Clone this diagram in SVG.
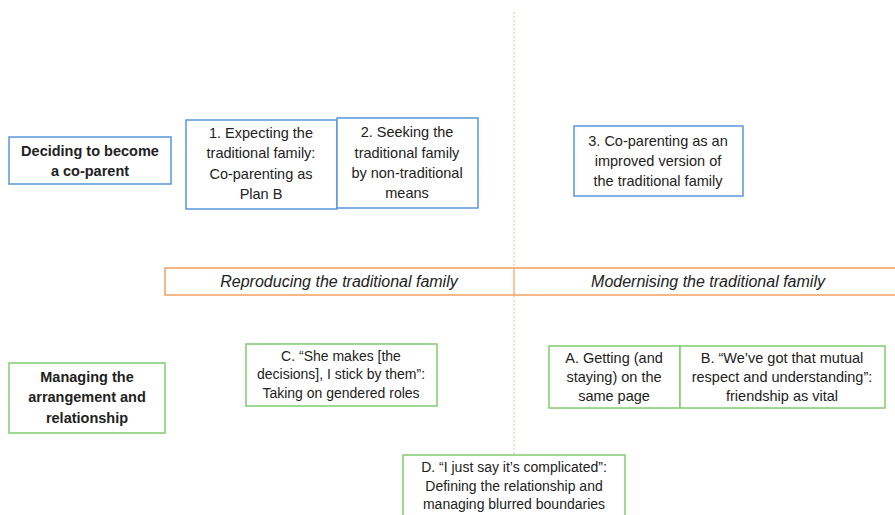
<svg xmlns="http://www.w3.org/2000/svg" width="895" height="515" viewBox="0 0 895 515">
<style>
.bl{fill:#fff;stroke:#5896dc;stroke-width:1.5}
.gr{fill:#fff;stroke:#80cc70;stroke-width:1.5}
.or{fill:#fff;stroke:#f4a060;stroke-width:1.5}
text{font-family:"Liberation Sans",Arial,sans-serif;font-size:14.5px;fill:#222;text-anchor:middle}
.b{font-weight:bold}
.i{font-style:italic;font-size:16px}
.s{font-size:14px}
.m{font-size:14.5px}
</style>
<rect width="895" height="515" fill="#fff"/>
<g id="connectors">
<line x1="514" y1="12" x2="514" y2="455" stroke="#f6c7a2" stroke-width="1.2" stroke-dasharray="2,2"/>
</g>
<g id="band">
<rect class="or" x="165" y="268" width="735" height="27"/>
<line x1="514" y1="268" x2="514" y2="295" stroke="#f4a060" stroke-width="1.2"/>
<text class="i" x="339" y="287">Reproducing the traditional family</text>
<text class="i" x="708" y="287">Modernising the traditional family</text>
</g>
<g id="deciding">
<rect class="bl" x="9" y="137" width="162" height="47"/>
<text class="b" x="90" y="156">Deciding to become</text>
<text class="b" x="90" y="176">a co-parent</text>
</g>
<g id="n1">
<rect class="bl" x="186" y="120" width="151" height="89"/>
<text x="261" y="138">1. Expecting the</text>
<text x="261" y="158">traditional family:</text>
<text x="261" y="179">Co-parenting as</text>
<text x="261" y="199">Plan B</text>
</g>
<g id="n2">
<rect class="bl" x="337" y="118" width="141" height="90"/>
<text x="407" y="137">2. Seeking the</text>
<text x="407" y="158">traditional family</text>
<text x="407" y="178">by non-traditional</text>
<text x="407" y="198">means</text>
</g>
<g id="n3">
<rect class="bl" x="574" y="126" width="169" height="70"/>
<text x="658" y="146">3. Co-parenting as an</text>
<text x="658" y="166">improved version of</text>
<text x="658" y="186">the traditional family</text>
</g>
<g id="managing">
<rect class="gr" x="9" y="363" width="156" height="70"/>
<text class="b" x="87" y="382">Managing the</text>
<text class="b" x="87" y="402">arrangement and</text>
<text class="b" x="87" y="423">relationship</text>
</g>
<g id="nC">
<rect class="gr" x="246" y="344" width="191" height="62"/>
<text class="s" x="341" y="361">C. “She makes [the</text>
<text class="s" x="341" y="379">decisions], I stick by them”:</text>
<text class="s" x="341" y="398">Taking on gendered roles</text>
</g>
<g id="nA">
<rect class="gr" x="549" y="346" width="131" height="62"/>
<text class="m" x="614" y="363">A. Getting (and</text>
<text class="m" x="614" y="382">staying) on the</text>
<text class="m" x="614" y="401">same page</text>
</g>
<g id="nB">
<rect class="gr" x="680" y="346" width="205" height="62"/>
<text class="m" x="782" y="363">B. “We’ve got that mutual</text>
<text class="m" x="782" y="382">respect and understanding”:</text>
<text class="m" x="782" y="401">friendship as vital</text>
</g>
<g id="nD">
<rect class="gr" x="403" y="455" width="222" height="70"/>
<text class="s" x="514" y="472">D. “I just say it’s complicated”:</text>
<text class="s" x="514" y="491">Defining the relationship and</text>
<text class="s" x="514" y="509">managing blurred boundaries</text>
</g>
</svg>
